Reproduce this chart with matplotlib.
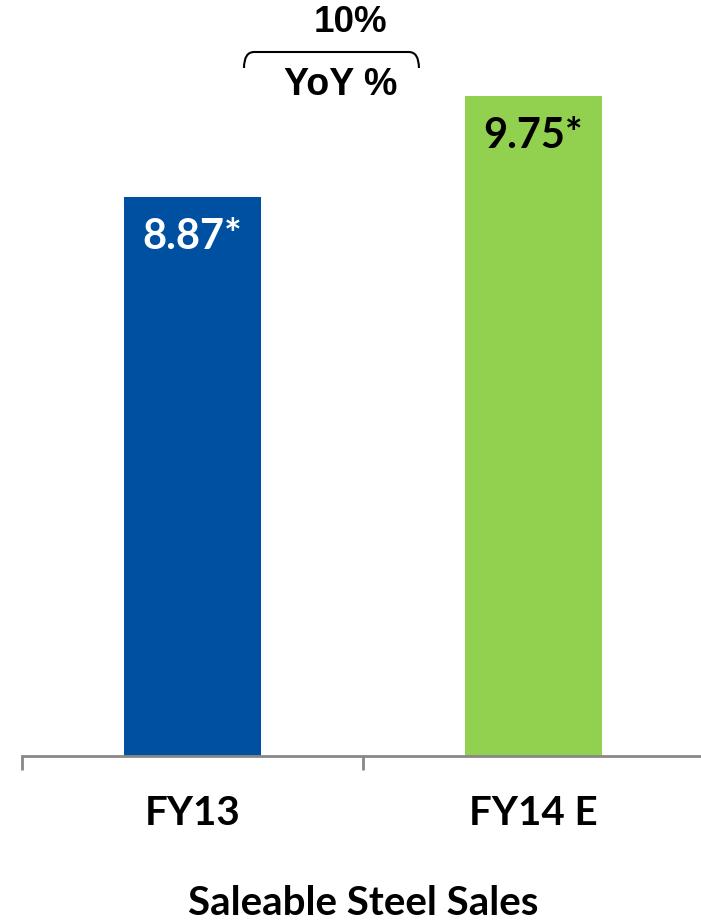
import matplotlib
matplotlib.use("Agg")
import matplotlib.pyplot as plt
from matplotlib.path import Path
from matplotlib.patches import PathPatch

categories = ["FY13", "FY14 E"]
values = [8.87, 9.75]
value_labels = ["8.87*", "9.75*"]
colors = ["#0050A2", "#92D050"]
label_colors = ["white", "black"]
growth_label = "10%"
growth_caption = "YoY %"
xlabel = "Saleable Steel Sales"

fig = plt.figure(figsize=(7.01, 9.21), dpi=100)
ax = fig.add_axes([22/701, (921-756)/921, 682/701, 756/921])
ax.bar(range(len(values)), values, width=0.402, color=colors, zorder=2)
ax.set_xlim(-0.5, 1.5)
ax.set_ylim(4.0, 4.0 + 756/114.8)

for i, (v, lab, c) in enumerate(zip(values, value_labels, label_colors)):
    ax.text(i, v - 0.35, lab, ha="center", va="center", color=c,
            fontsize=30, fontweight="bold", family="Lato")

for s in ["top", "right", "left"]:
    ax.spines[s].set_visible(False)
ax.spines["bottom"].set_color("#888888")
ax.spines["bottom"].set_linewidth(2)
ax.set_yticks([])
ax.set_xticks([-0.5, 0.5, 1.5], minor=False)
ax.set_xticklabels([])
ax.tick_params(axis="x", length=10, width=2, color="#888888", direction="out")
for i, cat in enumerate(categories):
    ax.text(i, -(813-756)/756, cat, transform=ax.get_xaxis_transform(), ha="center", va="center",
            fontsize=29, fontweight="bold", family="Lato", color="black")
ax.text(0.5, -(903-756)/756, xlabel, transform=ax.get_xaxis_transform(), ha="center", va="center",
        fontsize=29, fontweight="bold", family="Lato", color="black")

# bracket
tr = ax.get_xaxis_transform()
x0, x1 = 0.151, 0.664
yb, yt = 1 - 68/756, 1 - 52/756
dx = 0.03
verts = [(x0, yb), (x0, yt), (x0 + dx, yt), (x0 + dx, yt),
         (x1 - dx, yt), (x1 - dx, yt), (x1, yt), (x1, yb)]
codes = [Path.MOVETO, Path.CURVE3, Path.CURVE3, Path.LINETO,
         Path.LINETO, Path.LINETO, Path.CURVE3, Path.CURVE3]
ax.add_patch(PathPatch(Path(verts, codes), transform=tr, fill=False,
                       edgecolor="black", linewidth=1.5, clip_on=False))
ax.text(0.462, 1 - 22.5/756, growth_label, transform=tr, ha="center", va="center",
        fontsize=26.5, fontweight="bold", family="Liberation Sans")
ax.text(0.435, 1 - 85/756, growth_caption, transform=tr, ha="center", va="center",
        fontsize=27, fontweight="bold", family="Liberation Sans")

fig.savefig("out.png", dpi=100)
